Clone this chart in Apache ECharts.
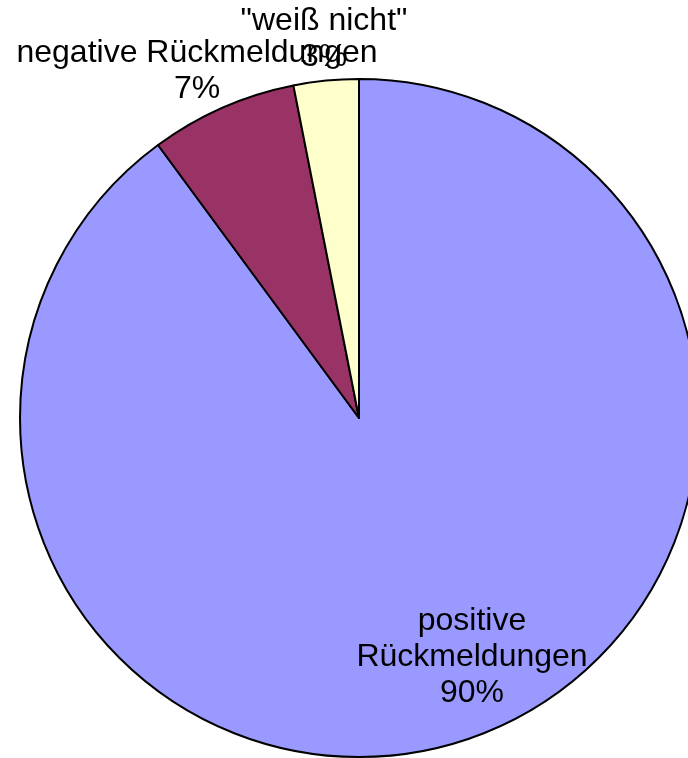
<!DOCTYPE html>
<html>
<head>
<meta charset="utf-8">
<script src="https://cdn.jsdelivr.net/npm/echarts@6/dist/echarts.min.js"></script>
<style>html,body{margin:0;padding:0;background:#fff;}#chart{width:688px;height:758px;}</style>
</head>
<body>
<div id="chart"></div>
<script>
const categories = ['positive Rückmeldungen', 'negative Rückmeldungen', '"weiß nicht"'];
const values = [89.9, 7.0, 3.1];
const colors = ['#9999FF', '#993366', '#FFFFCC'];
const labelPos = [[472, 657], [197, 71], [324, 39]];

const chart = echarts.init(document.getElementById('chart'));
chart.setOption({
  backgroundColor: '#ffffff',
  animation: false,
  series: [{
    type: 'pie',
    center: [359, 418],
    radius: 339,
    startAngle: 90,
    clockwise: true,
    avoidLabelOverlap: false,
    percentPrecision: 0,
    data: categories.map((c, i) => ({
      name: c, value: values[i],
      itemStyle: { color: colors[i] }
    })),
    itemStyle: { borderColor: '#000', borderWidth: 2 },
    label: {
      show: true,
      position: 'inside',
      fontFamily: 'Liberation Sans, Arial, sans-serif',
      fontSize: 32,
      lineHeight: 36,
      color: '#000',
      align: 'center',
      formatter: p => (p.dataIndex === 0 ? p.name.replace(' ', '\n') : p.name) + '\n' + p.percent + '%'
    },
    labelLine: { show: false },
    labelLayout: p => ({
      x: labelPos[p.dataIndex][0],
      y: labelPos[p.dataIndex][1],
      align: 'center',
      verticalAlign: 'middle'
    }),
    emphasis: { disabled: true }
  }]
});
</script>
</body>
</html>
